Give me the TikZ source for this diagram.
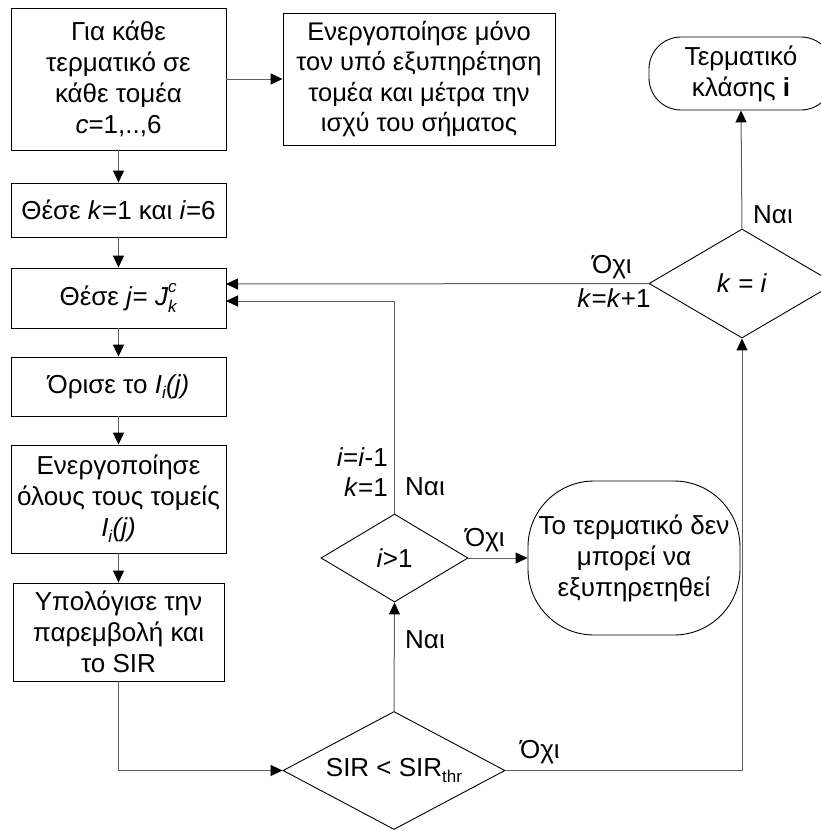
\documentclass[tikz,border=0pt]{standalone}
\usepackage{fontspec}
\setmainfont{Liberation Sans}
\usetikzlibrary{arrows.meta,shapes.geometric}
\definecolor{lc}{RGB}{95,95,95}
\newcommand\mysub[1]{\raisebox{-0.22em}{\fontsize{17}{17}\selectfont #1}}
\newcommand\mysupsub[2]{\rlap{\raisebox{0.5em}{\fontsize{17}{17}\selectfont #1}}\raisebox{-0.25em}{\fontsize{17}{17}\selectfont #2}}
\begin{document}
\begin{tikzpicture}[x=1pt,y=-1pt,
  font=\fontsize{26}{31}\selectfont,
  box/.style={draw=black, line width=0.9pt, rectangle, inner sep=0pt, align=center},
  dec/.style={draw=black, line width=0.9pt, diamond, inner sep=0pt, align=center},
  term/.style={draw=black, line width=0.9pt, rectangle, inner sep=0pt, align=center},
  conn/.style={draw=lc, line width=1pt, -{Triangle[length=12pt,width=11pt,color=black,fill=black]}},
  lbl/.style={inner sep=0pt}]
\useasboundingbox (0,0) rectangle (821,831);

\node[box, minimum width=215, minimum height=142] (b1) at (118.5,79) {Για κάθε\\τερματικό σε\\κάθε τομέα\\\textit{c}=1,..,6};
\node[box, minimum width=272, minimum height=132, font=\fontsize{25.5}{30.5}\selectfont] (b2) at (419,79) {Ενεργοποίησε μόνο\\τον υπό εξυπηρέτηση\\τομέα και μέτρα την\\ισχύ του σήματος};
\node[box, minimum width=215, minimum height=54] (b3) at (118.5,210) {Θέσε \textit{k}=1 και \textit{i}=6};
\node[box, minimum width=215, minimum height=60] (b4) at (118.5,298) {Θέσε \textit{j}= \textit{J}\mysupsub{\textit{c}}{\textit{k}}};
\node[box, minimum width=215, minimum height=59] (b5) at (118.5,386.5) {Όρισε το \textit{I}\mysub{\textit{i}}\textit{(j)}};
\node[box, minimum width=215, minimum height=108] (b6) at (118.5,499) {Ενεργοποίησε\\όλους τους τομείς\\\textit{I}\mysub{\textit{i}}\textit{(j)}};
\node[box, minimum width=211, minimum height=98] (b7) at (118.5,632) {Υπολόγισε την\\παρεμβολή και\\το SIR};

\node[dec, minimum width=222, minimum height=118, aspect=1.88] (d1) at (394,770.5) {SIR < SIR\mysub{thr}};
\node[dec, minimum width=147, minimum height=88, aspect=1.67] (d2) at (394.5,558) {\textit{i}>1};
\node[dec, minimum width=186, minimum height=109, aspect=1.7] (d3) at (742,283.5) {\textit{k} = \textit{i}};

\node[term, rounded corners=32pt, minimum width=184, minimum height=73] (t1) at (741,73.5) {Τερματικό\\κλάσης \textbf{i}};
\node[term, rounded corners=66pt, minimum width=212, minimum height=154] (t2) at (634,558) {Το τερματικό δεν\\μπορεί να\\εξυπηρετηθεί};

\coordinate (b4a) at (226,284);
\coordinate (b4b) at (226,301);

\draw[conn] (b1.east) -- (b2.west);
\draw[conn] (b1.south) -- (b3.north);
\draw[conn] (b3.south) -- (b4.north);
\draw[conn] (b4.south) -- (b5.north);
\draw[conn] (b5.south) -- (b6.north);
\draw[conn] (b6.south) -- (b7.north);
\draw[conn] (b7.south) |- (d1.west);
\draw[conn] (d1.north) -- (d2.south);
\draw[conn] (d2.east) -- (t2.west);
\draw[conn] (d2.north) |- (b4b);
\draw[conn] (d1.east) -| (d3.south);
\draw[conn] (d3.west) -- (b4a);
\draw[conn] (d3.north) -- (t1.south);

\node[lbl, anchor=west] (l1) at (753,215) {Ναι};
\node[lbl] (l2) at (612,267) {Όχι};
\node[lbl] (l3) at (614,298) {\textit{k}=\textit{k}+1};
\node[lbl, anchor=east] (l4) at (388,457) {\textit{i}=\textit{i}-1};
\node[lbl, anchor=east] (l5) at (388,487) {\textit{k}=1};
\node[lbl, anchor=west] (l6) at (405,487) {Ναι};
\node[lbl, anchor=west] (l7) at (405,640) {Ναι};
\node[lbl] (l8) at (485,540) {Όχι};
\node[lbl] (l9) at (540,752) {Όχι};
\end{tikzpicture}
\end{document}
